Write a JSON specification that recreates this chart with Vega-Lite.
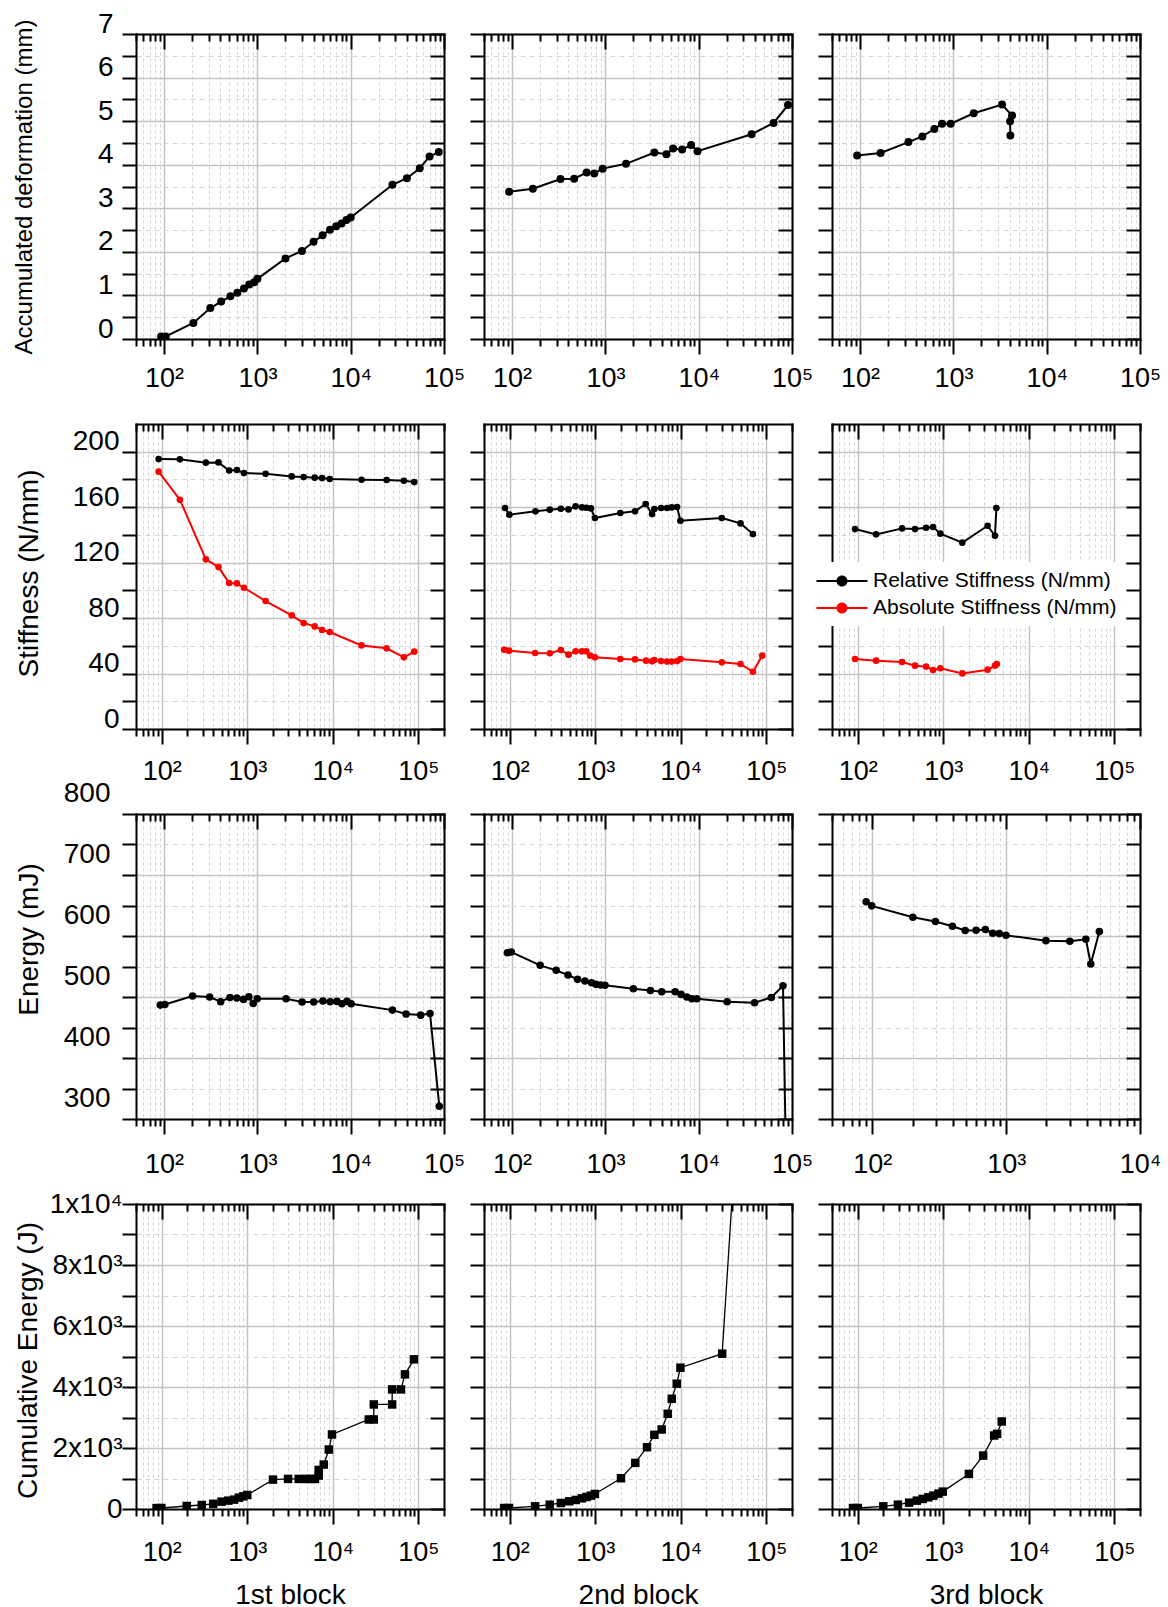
{
"$schema":"https://vega.github.io/schema/vega-lite/v6.json",
"background":"white",
"padding":{"left":12,"top":10,"right":5,"bottom":5},
"columns":3,
"spacing":{"row":85,"column":40},
"bounds":"flush",
"datasets":{
"r1":[
{"b":1,"n":93,"v":0.06},{"b":1,"n":104,"v":0.06},{"b":1,"n":206,"v":0.37},{"b":1,"n":313,"v":0.71},{"b":1,"n":409,"v":0.86},{"b":1,"n":514,"v":0.98},{"b":1,"n":610,"v":1.06},{"b":1,"n":718,"v":1.16},{"b":1,"n":818,"v":1.25},{"b":1,"n":925,"v":1.30},{"b":1,"n":1000,"v":1.38},{"b":1,"n":2000,"v":1.85},{"b":1,"n":3000,"v":2.02},{"b":1,"n":4000,"v":2.23},{"b":1,"n":5000,"v":2.38},{"b":1,"n":6000,"v":2.51},{"b":1,"n":7000,"v":2.59},{"b":1,"n":8000,"v":2.65},{"b":1,"n":9000,"v":2.73},{"b":1,"n":10000,"v":2.79},{"b":1,"n":28000,"v":3.54},{"b":1,"n":40000,"v":3.69},{"b":1,"n":55000,"v":3.92},{"b":1,"n":70000,"v":4.19},{"b":1,"n":88000,"v":4.29},
{"b":2,"n":93,"v":3.38},{"b":2,"n":167,"v":3.45},{"b":2,"n":330,"v":3.67},{"b":2,"n":463,"v":3.68},{"b":2,"n":629,"v":3.82},{"b":2,"n":760,"v":3.80},{"b":2,"n":934,"v":3.91},{"b":2,"n":1663,"v":4.02},{"b":2,"n":3350,"v":4.28},{"b":2,"n":4510,"v":4.24},{"b":2,"n":5320,"v":4.37},{"b":2,"n":6640,"v":4.35},{"b":2,"n":8300,"v":4.45},{"b":2,"n":9710,"v":4.31},{"b":2,"n":36900,"v":4.70},{"b":2,"n":63500,"v":4.96},{"b":2,"n":90600,"v":5.37},
{"b":3,"n":93,"v":4.21},{"b":3,"n":166,"v":4.27},{"b":3,"n":330,"v":4.52},{"b":3,"n":465,"v":4.65},{"b":3,"n":625,"v":4.82},{"b":3,"n":756,"v":4.94},{"b":3,"n":936,"v":4.94},{"b":3,"n":1652,"v":5.18},{"b":3,"n":3320,"v":5.38},{"b":3,"n":4250,"v":5.13},{"b":3,"n":4050,"v":5.0},{"b":3,"n":4080,"v":4.67}
],
"r2":[
{"b":1,"s":"R","n":92,"v":194.7},{"b":1,"s":"R","n":163,"v":194.5},{"b":1,"s":"R","n":328,"v":192.1},{"b":1,"s":"R","n":461,"v":192.3},{"b":1,"s":"R","n":615,"v":186.5},{"b":1,"s":"R","n":757,"v":186.8},{"b":1,"s":"R","n":914,"v":184.6},{"b":1,"s":"R","n":1640,"v":184.1},{"b":1,"s":"R","n":3310,"v":182.2},{"b":1,"s":"R","n":4570,"v":181.7},{"b":1,"s":"R","n":6150,"v":181.3},{"b":1,"s":"R","n":7500,"v":181.0},{"b":1,"s":"R","n":9220,"v":180.3},{"b":1,"s":"R","n":21700,"v":179.8},{"b":1,"s":"R","n":42600,"v":179.6},{"b":1,"s":"R","n":67900,"v":179.1},{"b":1,"s":"R","n":89800,"v":178.1},
{"b":1,"s":"A","n":92,"v":185.6},{"b":1,"s":"A","n":163,"v":165.4},{"b":1,"s":"A","n":328,"v":122.4},{"b":1,"s":"A","n":461,"v":116.8},{"b":1,"s":"A","n":615,"v":105.3},{"b":1,"s":"A","n":757,"v":105.0},{"b":1,"s":"A","n":914,"v":101.9},{"b":1,"s":"A","n":1640,"v":92.3},{"b":1,"s":"A","n":3310,"v":82.0},{"b":1,"s":"A","n":4570,"v":76.4},{"b":1,"s":"A","n":6150,"v":74.0},{"b":1,"s":"A","n":7500,"v":71.4},{"b":1,"s":"A","n":9220,"v":70.0},{"b":1,"s":"A","n":21700,"v":60.3},{"b":1,"s":"A","n":42600,"v":58.2},{"b":1,"s":"A","n":67900,"v":51.7},{"b":1,"s":"A","n":89800,"v":55.8},
{"b":2,"s":"R","n":88,"v":159.4},{"b":2,"s":"R","n":99,"v":154.6},{"b":2,"s":"R","n":200,"v":157.0},{"b":2,"s":"R","n":294,"v":158.2},{"b":2,"s":"R","n":396,"v":158.9},{"b":2,"s":"R","n":487,"v":158.4},{"b":2,"s":"R","n":589,"v":160.6},{"b":2,"s":"R","n":699,"v":159.9},{"b":2,"s":"R","n":786,"v":159.6},{"b":2,"s":"R","n":890,"v":159.1},{"b":2,"s":"R","n":991,"v":152.2},{"b":2,"s":"R","n":1963,"v":155.8},{"b":2,"s":"R","n":2917,"v":157.0},{"b":2,"s":"R","n":3890,"v":162.3},{"b":2,"s":"R","n":4620,"v":155.0},{"b":2,"s":"R","n":4910,"v":158.7},{"b":2,"s":"R","n":5890,"v":159.4},{"b":2,"s":"R","n":6920,"v":159.4},{"b":2,"s":"R","n":7850,"v":159.9},{"b":2,"s":"R","n":9060,"v":160.1},{"b":2,"s":"R","n":9910,"v":150.2},{"b":2,"s":"R","n":30200,"v":152.2},{"b":2,"s":"R","n":50000,"v":148.3},{"b":2,"s":"R","n":69800,"v":140.6},
{"b":2,"s":"A","n":86,"v":57.2},{"b":2,"s":"A","n":98,"v":56.5},{"b":2,"s":"A","n":198,"v":54.8},{"b":2,"s":"A","n":294,"v":54.6},{"b":2,"s":"A","n":396,"v":57.0},{"b":2,"s":"A","n":487,"v":53.6},{"b":2,"s":"A","n":589,"v":56.0},{"b":2,"s":"A","n":699,"v":56.0},{"b":2,"s":"A","n":786,"v":56.0},{"b":2,"s":"A","n":873,"v":52.9},{"b":2,"s":"A","n":991,"v":51.7},{"b":2,"s":"A","n":1963,"v":50.5},{"b":2,"s":"A","n":2917,"v":50.2},{"b":2,"s":"A","n":3930,"v":49.3},{"b":2,"s":"A","n":4620,"v":48.8},{"b":2,"s":"A","n":4910,"v":49.8},{"b":2,"s":"A","n":5890,"v":49.0},{"b":2,"s":"A","n":6920,"v":48.6},{"b":2,"s":"A","n":7850,"v":48.6},{"b":2,"s":"A","n":9060,"v":49.0},{"b":2,"s":"A","n":9910,"v":50.5},{"b":2,"s":"A","n":30200,"v":48.1},{"b":2,"s":"A","n":50000,"v":46.9},{"b":2,"s":"A","n":69800,"v":41.3},{"b":2,"s":"A","n":89700,"v":52.9},
{"b":3,"s":"R","n":93,"v":144.2},{"b":3,"s":"R","n":164,"v":140.4},{"b":3,"s":"R","n":330,"v":144.7},{"b":3,"s":"R","n":468,"v":144.2},{"b":3,"s":"R","n":629,"v":145.2},{"b":3,"s":"R","n":760,"v":145.7},{"b":3,"s":"R","n":925,"v":140.9},{"b":3,"s":"R","n":1672,"v":134.4},{"b":3,"s":"R","n":3300,"v":146.6},{"b":3,"s":"R","n":4030,"v":139.4},{"b":3,"s":"R","n":4180,"v":159.4},
{"b":3,"s":"A","n":93,"v":50.5},{"b":3,"s":"A","n":164,"v":49.3},{"b":3,"s":"A","n":330,"v":48.3},{"b":3,"s":"A","n":468,"v":45.7},{"b":3,"s":"A","n":629,"v":45.0},{"b":3,"s":"A","n":760,"v":42.5},{"b":3,"s":"A","n":925,"v":43.8},{"b":3,"s":"A","n":1672,"v":40.1},{"b":3,"s":"A","n":3300,"v":42.8},{"b":3,"s":"A","n":4030,"v":45.7},{"b":3,"s":"A","n":4230,"v":46.9}
],
"r3":[
{"b":1,"n":91,"v":486.7},{"b":1,"n":102,"v":487.8},{"b":1,"n":202,"v":501.5},{"b":1,"n":308,"v":499.9},{"b":1,"n":404,"v":492.2},{"b":1,"n":508,"v":499.3},{"b":1,"n":603,"v":498.2},{"b":1,"n":710,"v":496.1},{"b":1,"n":810,"v":500.4},{"b":1,"n":901,"v":489.5},{"b":1,"n":996,"v":497.2},{"b":1,"n":2030,"v":497.2},{"b":1,"n":3010,"v":491.7},{"b":1,"n":4010,"v":491.7},{"b":1,"n":5040,"v":493.3},{"b":1,"n":6040,"v":492.2},{"b":1,"n":7120,"v":492.8},{"b":1,"n":8050,"v":488.9},{"b":1,"n":9110,"v":492.8},{"b":1,"n":10100,"v":488.9},{"b":1,"n":28000,"v":478.5},{"b":1,"n":39200,"v":472.0},{"b":1,"n":56200,"v":470.3},{"b":1,"n":70800,"v":473.1},{"b":1,"n":89100,"v":320.8},
{"b":2,"n":89,"v":572.7},{"b":2,"n":98,"v":573.8},{"b":2,"n":200,"v":551.9},{"b":2,"n":297,"v":543.7},{"b":2,"n":397,"v":536.0},{"b":2,"n":503,"v":528.9},{"b":2,"n":604,"v":526.2},{"b":2,"n":712,"v":523.4},{"b":2,"n":792,"v":520.7},{"b":2,"n":890,"v":519.6},{"b":2,"n":990,"v":519.1},{"b":2,"n":1995,"v":513.6},{"b":2,"n":3037,"v":510.8},{"b":2,"n":4017,"v":508.7},{"b":2,"n":5590,"v":508.7},{"b":2,"n":6480,"v":504.3},{"b":2,"n":7460,"v":499.9},{"b":2,"n":8440,"v":497.2},{"b":2,"n":9550,"v":497.2},{"b":2,"n":20200,"v":492.2},{"b":2,"n":39700,"v":490.6},{"b":2,"n":60000,"v":499.3},{"b":2,"n":80100,"v":518.5},{"b":2,"n":87000,"v":200},
{"b":3,"n":90,"v":656},{"b":3,"n":99,"v":649.4},{"b":3,"n":201,"v":630.8},{"b":3,"n":296,"v":623.7},{"b":3,"n":397,"v":616.0},{"b":3,"n":494,"v":608.9},{"b":3,"n":596,"v":609.4},{"b":3,"n":700,"v":610.5},{"b":3,"n":793,"v":604.5},{"b":3,"n":889,"v":603.9},{"b":3,"n":997,"v":601.2},{"b":3,"n":1982,"v":592.4},{"b":3,"n":2990,"v":591.3},{"b":3,"n":3940,"v":594.6},{"b":3,"n":4290,"v":554.1},{"b":3,"n":4970,"v":607.2}
],
"r4":[
{"b":1,"n":87,"v":30},{"b":1,"n":99,"v":33},{"b":1,"n":196,"v":99},{"b":1,"n":294,"v":131},{"b":1,"n":400,"v":170},{"b":1,"n":500,"v":240},{"b":1,"n":600,"v":274},{"b":1,"n":700,"v":307},{"b":1,"n":800,"v":372},{"b":1,"n":900,"v":416},{"b":1,"n":1000,"v":460},{"b":1,"n":2000,"v":964},{"b":1,"n":3000,"v":986},{"b":1,"n":4000,"v":986},{"b":1,"n":4800,"v":986},{"b":1,"n":5500,"v":986},{"b":1,"n":6200,"v":986},{"b":1,"n":6850,"v":1095},{"b":1,"n":6850,"v":1281},{"b":1,"n":7850,"v":1457},{"b":1,"n":9000,"v":1950},{"b":1,"n":9800,"v":2443},{"b":1,"n":26400,"v":2935},{"b":1,"n":30200,"v":2935},{"b":1,"n":30200,"v":3428},{"b":1,"n":49500,"v":3428},{"b":1,"n":49500,"v":3921},{"b":1,"n":62700,"v":3921},{"b":1,"n":69900,"v":4414},{"b":1,"n":89000,"v":4907},
{"b":2,"n":86,"v":33},{"b":2,"n":98,"v":33},{"b":2,"n":198,"v":88},{"b":2,"n":294,"v":142},{"b":2,"n":396,"v":197},{"b":2,"n":496,"v":252},{"b":2,"n":593,"v":296},{"b":2,"n":698,"v":350},{"b":2,"n":791,"v":394},{"b":2,"n":889,"v":438},{"b":2,"n":991,"v":493},{"b":2,"n":2000,"v":1008},{"b":2,"n":2940,"v":1512},{"b":2,"n":4030,"v":2026},{"b":2,"n":4910,"v":2432},{"b":2,"n":5980,"v":2607},{"b":2,"n":7040,"v":3122},{"b":2,"n":7850,"v":3614},{"b":2,"n":8980,"v":4107},{"b":2,"n":9910,"v":4633},{"b":2,"n":30500,"v":5093},{"b":2,"n":87000,"v":25000},
{"b":3,"n":88,"v":33},{"b":3,"n":100,"v":33},{"b":3,"n":199,"v":88},{"b":3,"n":295,"v":142},{"b":3,"n":399,"v":208},{"b":3,"n":491,"v":274},{"b":3,"n":576,"v":329},{"b":3,"n":671,"v":383},{"b":3,"n":767,"v":438},{"b":3,"n":878,"v":504},{"b":3,"n":986,"v":570},{"b":3,"n":1995,"v":1150},{"b":3,"n":2930,"v":1752},{"b":3,"n":3935,"v":2410},{"b":3,"n":4265,"v":2464},{"b":3,"n":4830,"v":2870}
]
},
"concat":[
{"width":308,"height":305,"data":{"name":"r1"},"transform":[{"filter":"datum.b==1"}],"layer":[
{"mark":{"type":"line","color":"black","strokeWidth":2,"clip":true},"encoding":{
"x":{"field":"n","type":"quantitative","scale":{"type":"log","domain":[50,100000],"nice":false},"axis":{"orient":"bottom","values":[50,60,70,80,90,100,200,300,400,500,600,700,800,900,1000,2000,3000,4000,5000,6000,7000,8000,9000,10000,20000,30000,40000,50000,60000,70000,80000,90000,100000],"title":null,"labelExpr":"datum.value==100?'10²':datum.value==1000?'10³':datum.value==10000?'10⁴':datum.value==100000?'10⁵':''","labelPadding":11,"tickSize":{"condition":{"test":"indexof([100,1000,10000,100000],datum.value)>=0","value":15},"value":7},"grid":true,"gridColor":{"condition":{"test":"indexof([100,1000,10000,100000],datum.value)>=0","value":"#c4c4c4"},"value":"#d6d6d6"},"gridDash":{"condition":{"test":"indexof([100,1000,10000,100000],datum.value)>=0","value":[]},"value":[3,3]},"gridWidth":{"condition":{"test":"indexof([100,1000,10000,100000],datum.value)>=0","value":1.5},"value":1}}},
"y":{"field":"v","type":"quantitative","scale":{"domain":[0,7],"nice":false,"zero":false},"axis":{"orient":"left","values":[0,0.5,1,1.5,2,2.5,3,3.5,4,4.5,5,5.5,6,6.5,7],"title":"Accumulated deformation (mm)","titleFontSize":24,"titleX":-112,"titleY":152.5,"titleAngle":270,"titleBaseline":"middle","titleAlign":"center","labelExpr":"datum.value%1==0?''+datum.value:''","labelBaseline":"alphabetic","labelOffset":-2,"labelPadding":9,"grid":true,"gridColor":{"condition":{"test":"datum.value%1==0","value":"#c4c4c4"},"value":"#d6d6d6"},"gridDash":{"condition":{"test":"datum.value%1==0","value":[]},"value":[5,4]},"gridWidth":{"condition":{"test":"datum.value%1==0","value":1.5},"value":1}}},
"order":{"value":null}}},
{"mark":{"type":"point","filled":true,"color":"black","size":64,"opacity":1,"clip":true},"encoding":{
"x":{"field":"n","type":"quantitative","scale":{"type":"log","domain":[50,100000],"nice":false},"axis":{"orient":"top","values":[50,60,70,80,90,100,200,300,400,500,600,700,800,900,1000,2000,3000,4000,5000,6000,7000,8000,9000,10000,20000,30000,40000,50000,60000,70000,80000,90000,100000],"title":null,"labels":false,"grid":false,"tickSize":{"condition":{"test":"indexof([100,1000,10000,100000],datum.value)>=0","value":-15},"value":-7}}},
"y":{"field":"v","type":"quantitative","scale":{"domain":[0,7],"nice":false,"zero":false},"axis":{"orient":"right","values":[0,0.5,1,1.5,2,2.5,3,3.5,4,4.5,5,5.5,6,6.5,7],"title":null,"labels":false,"grid":false,"tickSize":-14}}}}
],"resolve":{"axis":{"x":"independent","y":"independent"}}},

{"width":308,"height":305,"data":{"name":"r1"},"transform":[{"filter":"datum.b==2"}],"layer":[
{"mark":{"type":"line","color":"black","strokeWidth":2,"clip":true},"encoding":{
"x":{"field":"n","type":"quantitative","scale":{"type":"log","domain":[50,100000],"nice":false},"axis":{"orient":"bottom","values":[50,60,70,80,90,100,200,300,400,500,600,700,800,900,1000,2000,3000,4000,5000,6000,7000,8000,9000,10000,20000,30000,40000,50000,60000,70000,80000,90000,100000],"title":null,"labelExpr":"datum.value==100?'10²':datum.value==1000?'10³':datum.value==10000?'10⁴':datum.value==100000?'10⁵':''","labelPadding":11,"tickSize":{"condition":{"test":"indexof([100,1000,10000,100000],datum.value)>=0","value":15},"value":7},"grid":true,"gridColor":{"condition":{"test":"indexof([100,1000,10000,100000],datum.value)>=0","value":"#c4c4c4"},"value":"#d6d6d6"},"gridDash":{"condition":{"test":"indexof([100,1000,10000,100000],datum.value)>=0","value":[]},"value":[3,3]},"gridWidth":{"condition":{"test":"indexof([100,1000,10000,100000],datum.value)>=0","value":1.5},"value":1}}},
"y":{"field":"v","type":"quantitative","scale":{"domain":[0,7],"nice":false,"zero":false},"axis":{"orient":"left","values":[0,0.5,1,1.5,2,2.5,3,3.5,4,4.5,5,5.5,6,6.5,7],"title":null,"labels":false,"grid":true,"gridColor":{"condition":{"test":"datum.value%1==0","value":"#c4c4c4"},"value":"#d6d6d6"},"gridDash":{"condition":{"test":"datum.value%1==0","value":[]},"value":[5,4]},"gridWidth":{"condition":{"test":"datum.value%1==0","value":1.5},"value":1}}},
"order":{"value":null}}},
{"mark":{"type":"point","filled":true,"color":"black","size":64,"opacity":1,"clip":true},"encoding":{
"x":{"field":"n","type":"quantitative","scale":{"type":"log","domain":[50,100000],"nice":false},"axis":{"orient":"top","values":[50,60,70,80,90,100,200,300,400,500,600,700,800,900,1000,2000,3000,4000,5000,6000,7000,8000,9000,10000,20000,30000,40000,50000,60000,70000,80000,90000,100000],"title":null,"labels":false,"grid":false,"tickSize":{"condition":{"test":"indexof([100,1000,10000,100000],datum.value)>=0","value":-15},"value":-7}}},
"y":{"field":"v","type":"quantitative","scale":{"domain":[0,7],"nice":false,"zero":false},"axis":{"orient":"right","values":[0,0.5,1,1.5,2,2.5,3,3.5,4,4.5,5,5.5,6,6.5,7],"title":null,"labels":false,"grid":false,"tickSize":-14}}}}
],"resolve":{"axis":{"x":"independent","y":"independent"}}},

{"width":308,"height":305,"data":{"name":"r1"},"transform":[{"filter":"datum.b==3"}],"layer":[
{"mark":{"type":"line","color":"black","strokeWidth":2,"clip":true},"encoding":{
"x":{"field":"n","type":"quantitative","scale":{"type":"log","domain":[50,100000],"nice":false},"axis":{"orient":"bottom","values":[50,60,70,80,90,100,200,300,400,500,600,700,800,900,1000,2000,3000,4000,5000,6000,7000,8000,9000,10000,20000,30000,40000,50000,60000,70000,80000,90000,100000],"title":null,"labelExpr":"datum.value==100?'10²':datum.value==1000?'10³':datum.value==10000?'10⁴':datum.value==100000?'10⁵':''","labelPadding":11,"tickSize":{"condition":{"test":"indexof([100,1000,10000,100000],datum.value)>=0","value":15},"value":7},"grid":true,"gridColor":{"condition":{"test":"indexof([100,1000,10000,100000],datum.value)>=0","value":"#c4c4c4"},"value":"#d6d6d6"},"gridDash":{"condition":{"test":"indexof([100,1000,10000,100000],datum.value)>=0","value":[]},"value":[3,3]},"gridWidth":{"condition":{"test":"indexof([100,1000,10000,100000],datum.value)>=0","value":1.5},"value":1}}},
"y":{"field":"v","type":"quantitative","scale":{"domain":[0,7],"nice":false,"zero":false},"axis":{"orient":"left","values":[0,0.5,1,1.5,2,2.5,3,3.5,4,4.5,5,5.5,6,6.5,7],"title":null,"labels":false,"grid":true,"gridColor":{"condition":{"test":"datum.value%1==0","value":"#c4c4c4"},"value":"#d6d6d6"},"gridDash":{"condition":{"test":"datum.value%1==0","value":[]},"value":[5,4]},"gridWidth":{"condition":{"test":"datum.value%1==0","value":1.5},"value":1}}},
"order":{"value":null}}},
{"mark":{"type":"point","filled":true,"color":"black","size":64,"opacity":1,"clip":true},"encoding":{
"x":{"field":"n","type":"quantitative","scale":{"type":"log","domain":[50,100000],"nice":false},"axis":{"orient":"top","values":[50,60,70,80,90,100,200,300,400,500,600,700,800,900,1000,2000,3000,4000,5000,6000,7000,8000,9000,10000,20000,30000,40000,50000,60000,70000,80000,90000,100000],"title":null,"labels":false,"grid":false,"tickSize":{"condition":{"test":"indexof([100,1000,10000,100000],datum.value)>=0","value":-15},"value":-7}}},
"y":{"field":"v","type":"quantitative","scale":{"domain":[0,7],"nice":false,"zero":false},"axis":{"orient":"right","values":[0,0.5,1,1.5,2,2.5,3,3.5,4,4.5,5,5.5,6,6.5,7],"title":null,"labels":false,"grid":false,"tickSize":-14}}}}
],"resolve":{"axis":{"x":"independent","y":"independent"}}},

{"width":308,"height":305,"data":{"name":"r2"},"transform":[{"filter":"datum.b==1"}],"layer":[
{"mark":{"type":"line","strokeWidth":2,"clip":true},"encoding":{
"x":{"field":"n","type":"quantitative","scale":{"type":"log","domain":[50,200000],"nice":false},"axis":{"orient":"bottom","values":[50,60,70,80,90,100,200,300,400,500,600,700,800,900,1000,2000,3000,4000,5000,6000,7000,8000,9000,10000,20000,30000,40000,50000,60000,70000,80000,90000,100000,200000],"title":null,"labelExpr":"datum.value==100?'10²':datum.value==1000?'10³':datum.value==10000?'10⁴':datum.value==100000?'10⁵':''","labelPadding":14,"tickSize":{"condition":{"test":"indexof([100,1000,10000,100000],datum.value)>=0","value":15},"value":7},"grid":true,"gridColor":{"condition":{"test":"indexof([100,1000,10000,100000],datum.value)>=0","value":"#c4c4c4"},"value":"#d6d6d6"},"gridDash":{"condition":{"test":"indexof([100,1000,10000,100000],datum.value)>=0","value":[]},"value":[3,3]},"gridWidth":{"condition":{"test":"indexof([100,1000,10000,100000],datum.value)>=0","value":1.5},"value":1}}},
"y":{"field":"v","type":"quantitative","scale":{"domain":[0,220],"nice":false,"zero":false},"axis":{"orient":"left","values":[0,20,40,60,80,100,120,140,160,180,200],"title":"Stiffness (N/mm)","titleFontSize":28,"titleX":-107,"titleY":149,"titleAngle":270,"titleBaseline":"middle","titleAlign":"center","labelExpr":"datum.value%40==0?''+datum.value:''","labelBaseline":"alphabetic","labelOffset":-2,"labelPadding":3,"grid":true,"gridColor":{"condition":{"test":"datum.value%40==0","value":"#c4c4c4"},"value":"#d6d6d6"},"gridDash":{"condition":{"test":"datum.value%40==0","value":[]},"value":[5,4]},"gridWidth":{"condition":{"test":"datum.value%40==0","value":1.5},"value":1}}},
"stroke":{"field":"s","type":"nominal","scale":{"domain":["R","A"],"range":["black","red"]},"legend":null},
"order":{"value":null}}},
{"mark":{"type":"point","filled":true,"size":44,"opacity":1,"clip":true},"encoding":{
"x":{"field":"n","type":"quantitative","scale":{"type":"log","domain":[50,200000],"nice":false},"axis":{"orient":"top","values":[50,60,70,80,90,100,200,300,400,500,600,700,800,900,1000,2000,3000,4000,5000,6000,7000,8000,9000,10000,20000,30000,40000,50000,60000,70000,80000,90000,100000,200000],"title":null,"labels":false,"grid":false,"tickSize":{"condition":{"test":"indexof([100,1000,10000,100000],datum.value)>=0","value":-15},"value":-7}}},
"y":{"field":"v","type":"quantitative","scale":{"domain":[0,220],"nice":false,"zero":false},"axis":{"orient":"right","values":[0,20,40,60,80,100,120,140,160,180,200],"title":null,"labels":false,"grid":false,"tickSize":-14}},
"color":{"field":"s","type":"nominal","scale":{"domain":["R","A"],"range":["black","red"]},"legend":null}}}
],"resolve":{"axis":{"x":"independent","y":"independent"}}},

{"width":308,"height":305,"data":{"name":"r2"},"transform":[{"filter":"datum.b==2"}],"layer":[
{"mark":{"type":"line","strokeWidth":2,"clip":true},"encoding":{
"x":{"field":"n","type":"quantitative","scale":{"type":"log","domain":[50,200000],"nice":false},"axis":{"orient":"bottom","values":[50,60,70,80,90,100,200,300,400,500,600,700,800,900,1000,2000,3000,4000,5000,6000,7000,8000,9000,10000,20000,30000,40000,50000,60000,70000,80000,90000,100000,200000],"title":null,"labelExpr":"datum.value==100?'10²':datum.value==1000?'10³':datum.value==10000?'10⁴':datum.value==100000?'10⁵':''","labelPadding":14,"tickSize":{"condition":{"test":"indexof([100,1000,10000,100000],datum.value)>=0","value":15},"value":7},"grid":true,"gridColor":{"condition":{"test":"indexof([100,1000,10000,100000],datum.value)>=0","value":"#c4c4c4"},"value":"#d6d6d6"},"gridDash":{"condition":{"test":"indexof([100,1000,10000,100000],datum.value)>=0","value":[]},"value":[3,3]},"gridWidth":{"condition":{"test":"indexof([100,1000,10000,100000],datum.value)>=0","value":1.5},"value":1}}},
"y":{"field":"v","type":"quantitative","scale":{"domain":[0,220],"nice":false,"zero":false},"axis":{"orient":"left","values":[0,20,40,60,80,100,120,140,160,180,200],"title":null,"labels":false,"grid":true,"gridColor":{"condition":{"test":"datum.value%40==0","value":"#c4c4c4"},"value":"#d6d6d6"},"gridDash":{"condition":{"test":"datum.value%40==0","value":[]},"value":[5,4]},"gridWidth":{"condition":{"test":"datum.value%40==0","value":1.5},"value":1}}},
"stroke":{"field":"s","type":"nominal","scale":{"domain":["R","A"],"range":["black","red"]},"legend":null},
"order":{"value":null}}},
{"mark":{"type":"point","filled":true,"size":44,"opacity":1,"clip":true},"encoding":{
"x":{"field":"n","type":"quantitative","scale":{"type":"log","domain":[50,200000],"nice":false},"axis":{"orient":"top","values":[50,60,70,80,90,100,200,300,400,500,600,700,800,900,1000,2000,3000,4000,5000,6000,7000,8000,9000,10000,20000,30000,40000,50000,60000,70000,80000,90000,100000,200000],"title":null,"labels":false,"grid":false,"tickSize":{"condition":{"test":"indexof([100,1000,10000,100000],datum.value)>=0","value":-15},"value":-7}}},
"y":{"field":"v","type":"quantitative","scale":{"domain":[0,220],"nice":false,"zero":false},"axis":{"orient":"right","values":[0,20,40,60,80,100,120,140,160,180,200],"title":null,"labels":false,"grid":false,"tickSize":-14}},
"color":{"field":"s","type":"nominal","scale":{"domain":["R","A"],"range":["black","red"]},"legend":null}}}
],"resolve":{"axis":{"x":"independent","y":"independent"}}},

{"width":308,"height":305,"data":{"name":"r2"},"transform":[{"filter":"datum.b==3"}],"layer":[
{"mark":{"type":"line","strokeWidth":2,"clip":true},"encoding":{
"x":{"field":"n","type":"quantitative","scale":{"type":"log","domain":[50,200000],"nice":false},"axis":{"orient":"bottom","values":[50,60,70,80,90,100,200,300,400,500,600,700,800,900,1000,2000,3000,4000,5000,6000,7000,8000,9000,10000,20000,30000,40000,50000,60000,70000,80000,90000,100000,200000],"title":null,"labelExpr":"datum.value==100?'10²':datum.value==1000?'10³':datum.value==10000?'10⁴':datum.value==100000?'10⁵':''","labelPadding":14,"tickSize":{"condition":{"test":"indexof([100,1000,10000,100000],datum.value)>=0","value":15},"value":7},"grid":true,"gridColor":{"condition":{"test":"indexof([100,1000,10000,100000],datum.value)>=0","value":"#c4c4c4"},"value":"#d6d6d6"},"gridDash":{"condition":{"test":"indexof([100,1000,10000,100000],datum.value)>=0","value":[]},"value":[3,3]},"gridWidth":{"condition":{"test":"indexof([100,1000,10000,100000],datum.value)>=0","value":1.5},"value":1}}},
"y":{"field":"v","type":"quantitative","scale":{"domain":[0,220],"nice":false,"zero":false},"axis":{"orient":"left","values":[0,20,40,60,80,100,120,140,160,180,200],"title":null,"labels":false,"grid":true,"gridColor":{"condition":{"test":"datum.value%40==0","value":"#c4c4c4"},"value":"#d6d6d6"},"gridDash":{"condition":{"test":"datum.value%40==0","value":[]},"value":[5,4]},"gridWidth":{"condition":{"test":"datum.value%40==0","value":1.5},"value":1}}},
"stroke":{"field":"s","type":"nominal","scale":{"domain":["R","A"],"range":["black","red"]},"legend":{"orient":"none","legendX":-23,"legendY":138,"title":null,"fillColor":"white","padding":8,"zindex":2,"symbolType":"M-2.32,-0.09H2.32V0.09H-2.32Z M0.5,0A0.5,0.5,0,1,1,-0.5,0A0.5,0.5,0,1,1,0.5,0Z","symbolSize":484,"symbolStrokeWidth":0,"symbolOffset":14,"labelOffset":20,"labelFontSize":21,"labelLimit":0,"labelFont":"Liberation Sans","labelColor":"black","rowPadding":6,"labelExpr":"datum.label=='R'?'Relative Stiffness (N/mm)':'Absolute Stiffness (N/mm)'"}},
"order":{"value":null}}},
{"mark":{"type":"point","filled":true,"size":44,"opacity":1,"clip":true},"encoding":{
"x":{"field":"n","type":"quantitative","scale":{"type":"log","domain":[50,200000],"nice":false},"axis":{"orient":"top","values":[50,60,70,80,90,100,200,300,400,500,600,700,800,900,1000,2000,3000,4000,5000,6000,7000,8000,9000,10000,20000,30000,40000,50000,60000,70000,80000,90000,100000,200000],"title":null,"labels":false,"grid":false,"tickSize":{"condition":{"test":"indexof([100,1000,10000,100000],datum.value)>=0","value":-15},"value":-7}}},
"y":{"field":"v","type":"quantitative","scale":{"domain":[0,220],"nice":false,"zero":false},"axis":{"orient":"right","values":[0,20,40,60,80,100,120,140,160,180,200],"title":null,"labels":false,"grid":false,"tickSize":-14}},
"color":{"field":"s","type":"nominal","scale":{"domain":["R","A"],"range":["black","red"]},"legend":{"orient":"none","legendX":-23,"legendY":138,"title":null,"fillColor":"white","padding":8,"zindex":2,"symbolType":"M-2.32,-0.09H2.32V0.09H-2.32Z M0.5,0A0.5,0.5,0,1,1,-0.5,0A0.5,0.5,0,1,1,0.5,0Z","symbolSize":484,"symbolStrokeWidth":0,"symbolOffset":14,"labelOffset":20,"labelFontSize":21,"labelLimit":0,"labelFont":"Liberation Sans","labelColor":"black","rowPadding":6,"labelExpr":"datum.label=='R'?'Relative Stiffness (N/mm)':'Absolute Stiffness (N/mm)'"}}}}
],"resolve":{"axis":{"x":"independent","y":"independent"}}},

{"width":308,"height":305,"data":{"name":"r3"},"transform":[{"filter":"datum.b==1"}],"layer":[
{"mark":{"type":"line","color":"black","strokeWidth":2,"clip":true},"encoding":{
"x":{"field":"n","type":"quantitative","scale":{"type":"log","domain":[50,100000],"nice":false},"axis":{"orient":"bottom","values":[50,60,70,80,90,100,200,300,400,500,600,700,800,900,1000,2000,3000,4000,5000,6000,7000,8000,9000,10000,20000,30000,40000,50000,60000,70000,80000,90000,100000],"title":null,"labelExpr":"datum.value==100?'10²':datum.value==1000?'10³':datum.value==10000?'10⁴':datum.value==100000?'10⁵':''","labelPadding":17,"tickSize":{"condition":{"test":"indexof([100,1000,10000,100000],datum.value)>=0","value":15},"value":7},"grid":true,"gridColor":{"condition":{"test":"indexof([100,1000,10000,100000],datum.value)>=0","value":"#c4c4c4"},"value":"#d6d6d6"},"gridDash":{"condition":{"test":"indexof([100,1000,10000,100000],datum.value)>=0","value":[]},"value":[3,3]},"gridWidth":{"condition":{"test":"indexof([100,1000,10000,100000],datum.value)>=0","value":1.5},"value":1}}},
"y":{"field":"v","type":"quantitative","scale":{"domain":[300,800],"nice":false,"zero":false},"axis":{"orient":"left","values":[300,350,400,450,500,550,600,650,700,750,800],"title":"Energy (mJ)","titleFontSize":28,"titleX":-107,"titleY":125,"titleAngle":270,"titleBaseline":"middle","titleAlign":"center","labelExpr":"datum.value%100==0?''+datum.value:''","labelBaseline":"alphabetic","labelOffset":-13,"labelPadding":12,"grid":true,"gridColor":{"condition":{"test":"datum.value%100==0","value":"#c4c4c4"},"value":"#d6d6d6"},"gridDash":{"condition":{"test":"datum.value%100==0","value":[]},"value":[5,4]},"gridWidth":{"condition":{"test":"datum.value%100==0","value":1.5},"value":1}}},
"order":{"value":null}}},
{"mark":{"type":"point","filled":true,"color":"black","size":57,"opacity":1,"clip":true},"encoding":{
"x":{"field":"n","type":"quantitative","scale":{"type":"log","domain":[50,100000],"nice":false},"axis":{"orient":"top","values":[50,60,70,80,90,100,200,300,400,500,600,700,800,900,1000,2000,3000,4000,5000,6000,7000,8000,9000,10000,20000,30000,40000,50000,60000,70000,80000,90000,100000],"title":null,"labels":false,"grid":false,"tickSize":{"condition":{"test":"indexof([100,1000,10000,100000],datum.value)>=0","value":-15},"value":-7}}},
"y":{"field":"v","type":"quantitative","scale":{"domain":[300,800],"nice":false,"zero":false},"axis":{"orient":"right","values":[300,350,400,450,500,550,600,650,700,750,800],"title":null,"labels":false,"grid":false,"tickSize":-14}}}}
],"resolve":{"axis":{"x":"independent","y":"independent"}}},

{"width":308,"height":305,"data":{"name":"r3"},"transform":[{"filter":"datum.b==2"}],"layer":[
{"mark":{"type":"line","color":"black","strokeWidth":2,"clip":true},"encoding":{
"x":{"field":"n","type":"quantitative","scale":{"type":"log","domain":[50,100000],"nice":false},"axis":{"orient":"bottom","values":[50,60,70,80,90,100,200,300,400,500,600,700,800,900,1000,2000,3000,4000,5000,6000,7000,8000,9000,10000,20000,30000,40000,50000,60000,70000,80000,90000,100000],"title":null,"labelExpr":"datum.value==100?'10²':datum.value==1000?'10³':datum.value==10000?'10⁴':datum.value==100000?'10⁵':''","labelPadding":17,"tickSize":{"condition":{"test":"indexof([100,1000,10000,100000],datum.value)>=0","value":15},"value":7},"grid":true,"gridColor":{"condition":{"test":"indexof([100,1000,10000,100000],datum.value)>=0","value":"#c4c4c4"},"value":"#d6d6d6"},"gridDash":{"condition":{"test":"indexof([100,1000,10000,100000],datum.value)>=0","value":[]},"value":[3,3]},"gridWidth":{"condition":{"test":"indexof([100,1000,10000,100000],datum.value)>=0","value":1.5},"value":1}}},
"y":{"field":"v","type":"quantitative","scale":{"domain":[300,800],"nice":false,"zero":false},"axis":{"orient":"left","values":[300,350,400,450,500,550,600,650,700,750,800],"title":null,"labels":false,"grid":true,"gridColor":{"condition":{"test":"datum.value%100==0","value":"#c4c4c4"},"value":"#d6d6d6"},"gridDash":{"condition":{"test":"datum.value%100==0","value":[]},"value":[5,4]},"gridWidth":{"condition":{"test":"datum.value%100==0","value":1.5},"value":1}}},
"order":{"value":null}}},
{"mark":{"type":"point","filled":true,"color":"black","size":57,"opacity":1,"clip":true},"encoding":{
"x":{"field":"n","type":"quantitative","scale":{"type":"log","domain":[50,100000],"nice":false},"axis":{"orient":"top","values":[50,60,70,80,90,100,200,300,400,500,600,700,800,900,1000,2000,3000,4000,5000,6000,7000,8000,9000,10000,20000,30000,40000,50000,60000,70000,80000,90000,100000],"title":null,"labels":false,"grid":false,"tickSize":{"condition":{"test":"indexof([100,1000,10000,100000],datum.value)>=0","value":-15},"value":-7}}},
"y":{"field":"v","type":"quantitative","scale":{"domain":[300,800],"nice":false,"zero":false},"axis":{"orient":"right","values":[300,350,400,450,500,550,600,650,700,750,800],"title":null,"labels":false,"grid":false,"tickSize":-14}}}}
],"resolve":{"axis":{"x":"independent","y":"independent"}}},

{"width":308,"height":305,"data":{"name":"r3"},"transform":[{"filter":"datum.b==3"}],"layer":[
{"mark":{"type":"line","color":"black","strokeWidth":2,"clip":true},"encoding":{
"x":{"field":"n","type":"quantitative","scale":{"type":"log","domain":[50,10000],"nice":false},"axis":{"orient":"bottom","values":[50,60,70,80,90,100,200,300,400,500,600,700,800,900,1000,2000,3000,4000,5000,6000,7000,8000,9000,10000],"title":null,"labelExpr":"datum.value==100?'10²':datum.value==1000?'10³':datum.value==10000?'10⁴':datum.value==100000?'10⁵':''","labelPadding":17,"tickSize":{"condition":{"test":"indexof([100,1000,10000,100000],datum.value)>=0","value":15},"value":7},"grid":true,"gridColor":{"condition":{"test":"indexof([100,1000,10000,100000],datum.value)>=0","value":"#c4c4c4"},"value":"#d6d6d6"},"gridDash":{"condition":{"test":"indexof([100,1000,10000,100000],datum.value)>=0","value":[]},"value":[3,3]},"gridWidth":{"condition":{"test":"indexof([100,1000,10000,100000],datum.value)>=0","value":1.5},"value":1}}},
"y":{"field":"v","type":"quantitative","scale":{"domain":[300,800],"nice":false,"zero":false},"axis":{"orient":"left","values":[300,350,400,450,500,550,600,650,700,750,800],"title":null,"labels":false,"grid":true,"gridColor":{"condition":{"test":"datum.value%100==0","value":"#c4c4c4"},"value":"#d6d6d6"},"gridDash":{"condition":{"test":"datum.value%100==0","value":[]},"value":[5,4]},"gridWidth":{"condition":{"test":"datum.value%100==0","value":1.5},"value":1}}},
"order":{"value":null}}},
{"mark":{"type":"point","filled":true,"color":"black","size":57,"opacity":1,"clip":true},"encoding":{
"x":{"field":"n","type":"quantitative","scale":{"type":"log","domain":[50,10000],"nice":false},"axis":{"orient":"top","values":[50,60,70,80,90,100,200,300,400,500,600,700,800,900,1000,2000,3000,4000,5000,6000,7000,8000,9000,10000],"title":null,"labels":false,"grid":false,"tickSize":{"condition":{"test":"indexof([100,1000,10000,100000],datum.value)>=0","value":-15},"value":-7}}},
"y":{"field":"v","type":"quantitative","scale":{"domain":[300,800],"nice":false,"zero":false},"axis":{"orient":"right","values":[300,350,400,450,500,550,600,650,700,750,800],"title":null,"labels":false,"grid":false,"tickSize":-14}}}}
],"resolve":{"axis":{"x":"independent","y":"independent"}}},

{"width":308,"height":305,"data":{"name":"r4"},"transform":[{"filter":"datum.b==1"}],"layer":[
{"mark":{"type":"line","color":"black","strokeWidth":1.3,"clip":true},"encoding":{
"x":{"field":"n","type":"quantitative","scale":{"type":"log","domain":[50,200000],"nice":false},"axis":{"orient":"bottom","values":[50,60,70,80,90,100,200,300,400,500,600,700,800,900,1000,2000,3000,4000,5000,6000,7000,8000,9000,10000,20000,30000,40000,50000,60000,70000,80000,90000,100000,200000],"title":"1st block","titleFontSize":28,"titleY":86,"titleBaseline":"middle","labelExpr":"datum.value==100?'10²':datum.value==1000?'10³':datum.value==10000?'10⁴':datum.value==100000?'10⁵':''","labelPadding":15,"tickSize":{"condition":{"test":"indexof([100,1000,10000,100000],datum.value)>=0","value":15},"value":7},"grid":true,"gridColor":{"condition":{"test":"indexof([100,1000,10000,100000],datum.value)>=0","value":"#c4c4c4"},"value":"#d6d6d6"},"gridDash":{"condition":{"test":"indexof([100,1000,10000,100000],datum.value)>=0","value":[]},"value":[3,3]},"gridWidth":{"condition":{"test":"indexof([100,1000,10000,100000],datum.value)>=0","value":1.5},"value":1}}},
"y":{"field":"v","type":"quantitative","scale":{"domain":[0,10000],"nice":false,"zero":false},"axis":{"orient":"left","values":[0,1000,2000,3000,4000,5000,6000,7000,8000,9000,10000],"title":"Cumulative Energy (J)","titleFontSize":28,"titleX":-108,"titleY":156,"titleAngle":270,"titleBaseline":"middle","titleAlign":"center","labelExpr":"datum.value==0?'0':datum.value==10000?'1x10⁴':datum.value%2000==0?(datum.value/1000)+'x10³':''","labelBaseline":"middle","labelOffset":0,"labelPadding":0,"grid":true,"gridColor":{"condition":{"test":"datum.value%2000==0","value":"#c4c4c4"},"value":"#d6d6d6"},"gridDash":{"condition":{"test":"datum.value%2000==0","value":[]},"value":[5,4]},"gridWidth":{"condition":{"test":"datum.value%2000==0","value":1.5},"value":1}}},
"order":{"value":null}}},
{"mark":{"type":"point","filled":true,"shape":"square","color":"black","size":72,"opacity":1,"clip":true},"encoding":{
"x":{"field":"n","type":"quantitative","scale":{"type":"log","domain":[50,200000],"nice":false},"axis":{"orient":"top","values":[50,60,70,80,90,100,200,300,400,500,600,700,800,900,1000,2000,3000,4000,5000,6000,7000,8000,9000,10000,20000,30000,40000,50000,60000,70000,80000,90000,100000,200000],"title":null,"labels":false,"grid":false,"tickSize":{"condition":{"test":"indexof([100,1000,10000,100000],datum.value)>=0","value":-15},"value":-7}}},
"y":{"field":"v","type":"quantitative","scale":{"domain":[0,10000],"nice":false,"zero":false},"axis":{"orient":"right","values":[0,1000,2000,3000,4000,5000,6000,7000,8000,9000,10000],"title":null,"labels":false,"grid":false,"tickSize":-14}}}}
],"resolve":{"axis":{"x":"independent","y":"independent"}}},

{"width":308,"height":305,"data":{"name":"r4"},"transform":[{"filter":"datum.b==2"}],"layer":[
{"mark":{"type":"line","color":"black","strokeWidth":1.3,"clip":true},"encoding":{
"x":{"field":"n","type":"quantitative","scale":{"type":"log","domain":[50,200000],"nice":false},"axis":{"orient":"bottom","values":[50,60,70,80,90,100,200,300,400,500,600,700,800,900,1000,2000,3000,4000,5000,6000,7000,8000,9000,10000,20000,30000,40000,50000,60000,70000,80000,90000,100000,200000],"title":"2nd block","titleFontSize":28,"titleY":86,"titleBaseline":"middle","labelExpr":"datum.value==100?'10²':datum.value==1000?'10³':datum.value==10000?'10⁴':datum.value==100000?'10⁵':''","labelPadding":15,"tickSize":{"condition":{"test":"indexof([100,1000,10000,100000],datum.value)>=0","value":15},"value":7},"grid":true,"gridColor":{"condition":{"test":"indexof([100,1000,10000,100000],datum.value)>=0","value":"#c4c4c4"},"value":"#d6d6d6"},"gridDash":{"condition":{"test":"indexof([100,1000,10000,100000],datum.value)>=0","value":[]},"value":[3,3]},"gridWidth":{"condition":{"test":"indexof([100,1000,10000,100000],datum.value)>=0","value":1.5},"value":1}}},
"y":{"field":"v","type":"quantitative","scale":{"domain":[0,10000],"nice":false,"zero":false},"axis":{"orient":"left","values":[0,1000,2000,3000,4000,5000,6000,7000,8000,9000,10000],"title":null,"labels":false,"grid":true,"gridColor":{"condition":{"test":"datum.value%2000==0","value":"#c4c4c4"},"value":"#d6d6d6"},"gridDash":{"condition":{"test":"datum.value%2000==0","value":[]},"value":[5,4]},"gridWidth":{"condition":{"test":"datum.value%2000==0","value":1.5},"value":1}}},
"order":{"value":null}}},
{"mark":{"type":"point","filled":true,"shape":"square","color":"black","size":72,"opacity":1,"clip":true},"encoding":{
"x":{"field":"n","type":"quantitative","scale":{"type":"log","domain":[50,200000],"nice":false},"axis":{"orient":"top","values":[50,60,70,80,90,100,200,300,400,500,600,700,800,900,1000,2000,3000,4000,5000,6000,7000,8000,9000,10000,20000,30000,40000,50000,60000,70000,80000,90000,100000,200000],"title":null,"labels":false,"grid":false,"tickSize":{"condition":{"test":"indexof([100,1000,10000,100000],datum.value)>=0","value":-15},"value":-7}}},
"y":{"field":"v","type":"quantitative","scale":{"domain":[0,10000],"nice":false,"zero":false},"axis":{"orient":"right","values":[0,1000,2000,3000,4000,5000,6000,7000,8000,9000,10000],"title":null,"labels":false,"grid":false,"tickSize":-14}}}}
],"resolve":{"axis":{"x":"independent","y":"independent"}}},

{"width":308,"height":305,"data":{"name":"r4"},"transform":[{"filter":"datum.b==3"}],"layer":[
{"mark":{"type":"line","color":"black","strokeWidth":1.3,"clip":true},"encoding":{
"x":{"field":"n","type":"quantitative","scale":{"type":"log","domain":[50,200000],"nice":false},"axis":{"orient":"bottom","values":[50,60,70,80,90,100,200,300,400,500,600,700,800,900,1000,2000,3000,4000,5000,6000,7000,8000,9000,10000,20000,30000,40000,50000,60000,70000,80000,90000,100000,200000],"title":"3rd block","titleFontSize":28,"titleY":86,"titleBaseline":"middle","labelExpr":"datum.value==100?'10²':datum.value==1000?'10³':datum.value==10000?'10⁴':datum.value==100000?'10⁵':''","labelPadding":15,"tickSize":{"condition":{"test":"indexof([100,1000,10000,100000],datum.value)>=0","value":15},"value":7},"grid":true,"gridColor":{"condition":{"test":"indexof([100,1000,10000,100000],datum.value)>=0","value":"#c4c4c4"},"value":"#d6d6d6"},"gridDash":{"condition":{"test":"indexof([100,1000,10000,100000],datum.value)>=0","value":[]},"value":[3,3]},"gridWidth":{"condition":{"test":"indexof([100,1000,10000,100000],datum.value)>=0","value":1.5},"value":1}}},
"y":{"field":"v","type":"quantitative","scale":{"domain":[0,10000],"nice":false,"zero":false},"axis":{"orient":"left","values":[0,1000,2000,3000,4000,5000,6000,7000,8000,9000,10000],"title":null,"labels":false,"grid":true,"gridColor":{"condition":{"test":"datum.value%2000==0","value":"#c4c4c4"},"value":"#d6d6d6"},"gridDash":{"condition":{"test":"datum.value%2000==0","value":[]},"value":[5,4]},"gridWidth":{"condition":{"test":"datum.value%2000==0","value":1.5},"value":1}}},
"order":{"value":null}}},
{"mark":{"type":"point","filled":true,"shape":"square","color":"black","size":72,"opacity":1,"clip":true},"encoding":{
"x":{"field":"n","type":"quantitative","scale":{"type":"log","domain":[50,200000],"nice":false},"axis":{"orient":"top","values":[50,60,70,80,90,100,200,300,400,500,600,700,800,900,1000,2000,3000,4000,5000,6000,7000,8000,9000,10000,20000,30000,40000,50000,60000,70000,80000,90000,100000,200000],"title":null,"labels":false,"grid":false,"tickSize":{"condition":{"test":"indexof([100,1000,10000,100000],datum.value)>=0","value":-15},"value":-7}}},
"y":{"field":"v","type":"quantitative","scale":{"domain":[0,10000],"nice":false,"zero":false},"axis":{"orient":"right","values":[0,1000,2000,3000,4000,5000,6000,7000,8000,9000,10000],"title":null,"labels":false,"grid":false,"tickSize":-14}}}}
],"resolve":{"axis":{"x":"independent","y":"independent"}}}
],
"resolve":{"scale":{"x":"independent","y":"independent","color":"independent","stroke":"independent"},"axis":{"x":"independent","y":"independent"},"legend":{"color":"independent","stroke":"independent"}},
"config":{
"view":{"stroke":null},
"font":"Liberation Sans",
"axis":{"labelFont":"Liberation Sans","titleFont":"Liberation Sans","labelColor":"black","titleColor":"black","titleFontWeight":"normal","domainColor":"black","domainWidth":2,"domainCap":"square","tickColor":"black","tickWidth":2,"labelFlush":false,"labelOverlap":false,"labelBound":false},
"axisBottom":{"labelFontSize":27},
"axisLeft":{"labelFontSize":28,"tickSize":14}
}
}
